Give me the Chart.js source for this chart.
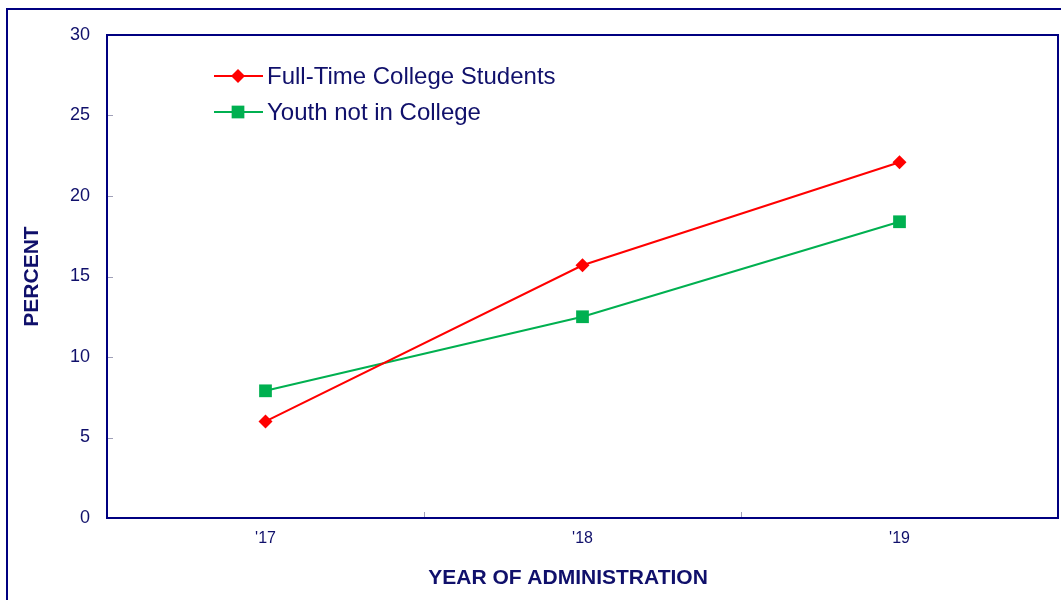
<!DOCTYPE html>
<html>
<head>
<meta charset="utf-8">
<script src="https://cdn.jsdelivr.net/npm/chart.js@4/dist/chart.umd.min.js"></script>
<style>
  html, body { margin: 0; padding: 0; background: #fff; }
  #wrap { position: relative; width: 1061px; height: 600px; overflow: hidden; }
  #frame { position: absolute; left: 6px; top: 8px; width: 1100px; height: 700px; border: 2px solid #000080; box-sizing: border-box; }
  canvas { position: absolute; left: 0; top: 0; }
</style>
</head>
<body>
<div id="wrap">
  <div id="frame"></div>
  <canvas id="chart" width="1061" height="600"></canvas>
</div>
<script>
const years = ["'17", "'18", "'19"];
const collegeStudents = [6.0, 15.7, 22.1];
const youthNotInCollege = [7.9, 12.5, 18.4];
const seriesNames = ['Full-Time College Students', 'Youth not in College'];
const xTitle = 'YEAR OF ADMINISTRATION';

const NAVY = '#000080';
const TEXT = '#10106b';
const FONT = "'Liberation Sans', Arial, sans-serif";

// frame, inner ticks, x title and legend drawn by hand
const decorations = {
    id: 'decorations',
    afterDraw(chart) {
        const { ctx, chartArea: a, scales: { x, y } } = chart;
        ctx.save();
        // small grey ticks
        ctx.strokeStyle = '#a0a0b8';
        ctx.lineWidth = 1;
        ctx.beginPath();
        y.ticks.forEach((t, i) => {
            const py = Math.round(y.getPixelForTick(i)) + 0.5;
            ctx.moveTo(a.left, py);
            ctx.lineTo(a.left + 6, py);
        });
        for (let i = 0; i < years.length - 1; i++) {
            const px = Math.round(x.getPixelForValue(i + 0.5)) + 0.5;
            ctx.moveTo(px, a.bottom);
            ctx.lineTo(px, a.bottom - 6);
        }
        ctx.stroke();
        // plot box
        ctx.strokeStyle = NAVY;
        ctx.lineWidth = 2;
        ctx.strokeRect(a.left, a.top, a.right - a.left, a.bottom - a.top);

        // x axis title (sits a bit left of the axis centre in the original)
        ctx.fillStyle = TEXT;
        ctx.font = 'bold 21px ' + FONT;
        ctx.textAlign = 'center';
        ctx.textBaseline = 'middle';
        ctx.fillText(xTitle, 568, 578);

        // legend
        ctx.font = '24px ' + FONT;
        ctx.textAlign = 'left';
        chart.data.datasets.forEach((ds, i) => {
            const ly = 76 + i * 36;
            ctx.strokeStyle = ds.borderColor;
            ctx.lineWidth = 2;
            ctx.beginPath();
            ctx.moveTo(214, ly);
            ctx.lineTo(263, ly);
            ctx.stroke();
            ctx.fillStyle = ds.pointBackgroundColor;
            Chart.helpers.drawPoint(ctx, {
                pointStyle: ds.pointStyle,
                rotation: 0,
                borderWidth: 0,
                radius: ds.pointRadius
            }, 238, ly);
            ctx.fillStyle = TEXT;
            ctx.fillText(ds.label, 267, ly + 1);
        });
        ctx.restore();
    }
};

new Chart(document.getElementById('chart'), {
    type: 'line',
    data: {
        labels: years,
        datasets: [
            {
                label: seriesNames[0],
                data: collegeStudents,
                borderColor: '#ff0000',
                backgroundColor: '#ff0000',
                pointBackgroundColor: '#ff0000',
                pointBorderWidth: 0,
                pointStyle: 'rectRot',
                pointRadius: 7,
                borderWidth: 2,
                tension: 0,
            },
            {
                label: seriesNames[1],
                data: youthNotInCollege,
                borderColor: '#00b050',
                backgroundColor: '#00b050',
                pointBackgroundColor: '#00b050',
                pointBorderWidth: 0,
                pointStyle: 'rect',
                pointRadius: 9,
                borderWidth: 2,
                tension: 0,
            },
        ],
    },
    options: {
        responsive: false,
        animation: false,
        layout: { autoPadding: false, padding: { top: 35, right: 3, left: 0, bottom: 0 } },
        plugins: {
            legend: { display: false },
            tooltip: { enabled: false },
        },
        scales: {
            x: {
                offset: true,
                grid: { display: false },
                border: { display: false },
                ticks: { color: TEXT, font: { family: FONT, size: 16 }, padding: 3 },
                afterFit: (s) => { s.height = 82; },
            },
            y: {
                min: 0,
                max: 30,
                grid: { display: false },
                border: { display: false },
                ticks: { stepSize: 5, color: TEXT, font: { family: FONT, size: 18 }, padding: 9 },
                title: {
                    display: true,
                    text: 'PERCENT',
                    color: TEXT,
                    font: { family: FONT, size: 21, weight: 'bold' },
                    padding: { top: 20, bottom: 0 },
                },
                afterFit: (s) => { s.width = 107; },
            },
        },
    },
    plugins: [decorations],
});
</script>
</body>
</html>
